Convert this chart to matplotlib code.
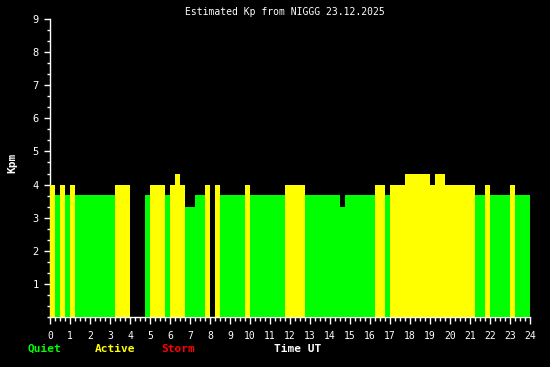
import numpy as np
import matplotlib
matplotlib.use("Agg")
import matplotlib.pyplot as plt
from matplotlib.ticker import MultipleLocator

nan = np.nan
# estimated Kp, 15 min steps, one row per hour (nan = no data)
kp = [
    4, 3.67, 4, 3.67,
    4, 3.67, 3.67, 3.67,
    3.67, 3.67, 3.67, 3.67,
    3.67, 4, 4, 4,
    nan, nan, nan, 3.67,
    4, 4, 4, 3.67,
    4, 4.33, 4, 3.33,
    3.33, 3.67, 3.67, 4,
    nan, 4, 3.67, 3.67,
    3.67, 3.67, 3.67, 4,
    3.67, 3.67, 3.67, 3.67,
    3.67, 3.67, 3.67, 4,
    4, 4, 4, 3.67,
    3.67, 3.67, 3.67, 3.67,
    3.67, 3.67, 3.33, 3.67,
    3.67, 3.67, 3.67, 3.67,
    3.67, 4, 4, 3.67,
    4, 4, 4, 4.33,
    4.33, 4.33, 4.33, 4.33,
    4, 4.33, 4.33, 4,
    4, 4, 4, 4,
    4, 3.67, 3.67, 4,
    3.67, 3.67, 3.67, 3.67,
    4, 3.67, 3.67, 3.67,
]
hours = list(range(25))
kp_ticks = list(range(1, 10))

W, H = 550, 367
fig = plt.figure(figsize=(W / 100, H / 100), dpi=100, facecolor="black")
ax = fig.add_axes([50 / W, (H - 317) / H, 480 / W, 298 / H])
ax.set_facecolor("black")

font = "DejaVu Sans Mono"
fs = 7

def kp_color(v):
    if v >= 5:
        return "#ff0000"
    if v >= 4:
        return "#ffff00"
    return "#00ff00"

t = np.arange(len(kp)) * 0.25
for ti, v in zip(t, kp):
    if np.isnan(v):
        continue
    ax.bar(ti, v, width=0.25, align="edge", color=kp_color(v),
           linewidth=0, antialiased=False, zorder=3)

ax.set_xlim(0, 24)
ax.set_ylim(0, 9)
for s in ["top", "right"]:
    ax.spines[s].set_visible(False)
for s in ["left", "bottom"]:
    ax.spines[s].set_color("white")
    ax.spines[s].set_linewidth(1)

ax.set_xticks(hours)
ax.set_xticklabels([str(h) for h in hours], fontfamily=font, fontsize=fs)
ax.xaxis.set_minor_locator(MultipleLocator(0.25))
ax.set_yticks(kp_ticks)
ax.set_yticklabels([str(k) for k in kp_ticks], fontfamily=font, fontsize=7.5)
ax.yaxis.set_minor_locator(MultipleLocator(1 / 3))

ax.tick_params(axis="x", which="major", length=5, width=1, colors="white", pad=5)
ax.tick_params(axis="x", which="minor", length=3, width=1, colors="white")
ax.tick_params(axis="y", which="major", length=4, width=1, colors="white", pad=4)
ax.tick_params(axis="y", which="minor", length=2, width=1, colors="white")

fig.text(285 / W, 1 - 12 / H, "Estimated Kp from NIGGG 23.12.2025",
         color="white", fontfamily=font, fontsize=fs, ha="center", va="center")
fig.text(12 / W, 1 - 163 / H, "Kpm", color="white", fontfamily=font,
         fontsize=8, fontweight="bold", rotation=90, ha="center", va="center")

y_leg = 1 - 349 / H
fb = 8
fig.text(28 / W, y_leg, "Quiet", color="#00ff00", fontfamily=font,
         fontsize=fb, fontweight="bold", va="center")
fig.text(95 / W, y_leg, "Active", color="#ffff00", fontfamily=font,
         fontsize=fb, fontweight="bold", va="center")
fig.text(161 / W, y_leg, "Storm", color="#ff0000", fontfamily=font,
         fontsize=fb, fontweight="bold", va="center")
fig.text(298 / W, y_leg, "Time UT", color="white", fontfamily=font,
         fontsize=fb, fontweight="bold", ha="center", va="center")

fig.savefig("out.png", dpi=100, facecolor="black")
